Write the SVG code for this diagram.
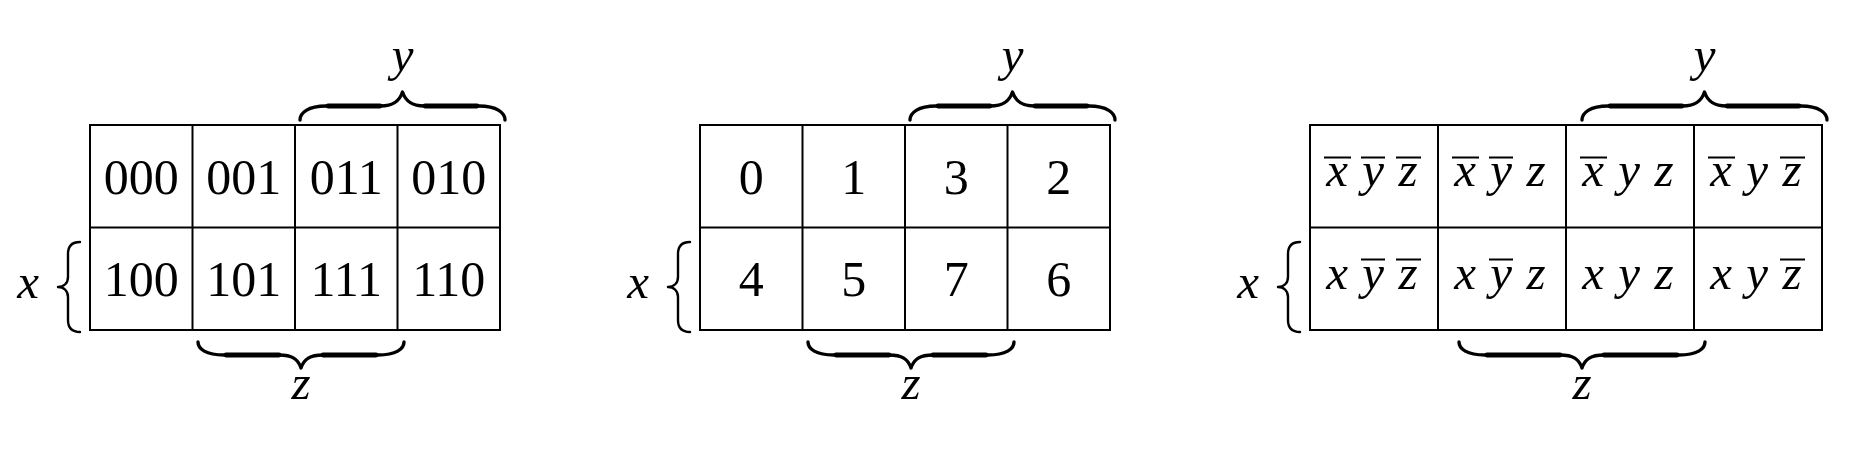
<svg xmlns="http://www.w3.org/2000/svg" xmlns:xlink="http://www.w3.org/1999/xlink" width="1854" height="450" viewBox="0 0 1854 450">
<style>
.grid{fill:none;stroke:#000;stroke-width:2}
.num{font-family:"Liberation Serif","Times New Roman",serif;font-size:50px;fill:#000;text-anchor:middle}
.var{font-family:"Liberation Serif","Times New Roman",serif;font-style:italic;font-size:49px;fill:#000;text-anchor:middle}
.term{font-family:"Liberation Serif","Times New Roman",serif;font-style:italic;font-size:49px;fill:#000;text-anchor:middle}
.ov{stroke:#000;stroke-width:2;fill:none}
.brace{fill:none;stroke:#000;stroke-width:3.4;stroke-linecap:round;stroke-linejoin:round}
.bthick{fill:none;stroke:#000;stroke-width:4.8;stroke-linecap:round}
.lb{fill:none;stroke:#000;stroke-width:2.4;stroke-linecap:round;stroke-linejoin:round}
</style>
<defs>
<path id="lbrace" d="M80,242 C72,242 68,246 68,254 L68,277 C68,283 64,287 58,287 C64,287 68,291 68,297 L68,320 C68,328 72,332 80,332"/>
</defs>
<rect width="1854" height="450" fill="#fff"/>

<!-- Panel 1: binary codes -->
<g id="panel1">
  <g id="p1-grid" class="grid">
    <rect x="90" y="125" width="410" height="205"/>
    <line x1="90" y1="227.5" x2="500" y2="227.5"/>
    <line x1="192.5" y1="125" x2="192.5" y2="330"/>
    <line x1="295" y1="125" x2="295" y2="330"/>
    <line x1="397.5" y1="125" x2="397.5" y2="330"/>
  </g>
  <g id="p1-cells" class="num">
    <text x="141.25" y="193.5">000</text>
    <text x="243.75" y="193.5">001</text>
    <text x="346.25" y="193.5">011</text>
    <text x="448.75" y="193.5">010</text>
    <text x="141.25" y="296">100</text>
    <text x="243.75" y="296">101</text>
    <text x="346.25" y="296">111</text>
    <text x="448.75" y="296">110</text>
  </g>
  <g id="p1-braces">
    <path class="brace" d="M300,120 C300,113 308,106 326,106 L380.5,106 C393.5,106 399.5,101 402.5,92 C405.5,101 411.5,106 424.5,106 L479,106 C497,106 505,113 505,120"/>
    <path class="bthick" d="M328,106 H380 M425,106 H477"/>
    <path class="brace" d="M198,342 C198,349 206,355 224,355 L279,355 C292,355 298,359 301,368 C304,359 310,355 323,355 L378,355 C396,355 404,349 404,342"/>
    <path class="bthick" d="M226,355 H279 M323,355 H376"/>
    <use xlink:href="#lbrace" href="#lbrace" class="lb"/>
  </g>
  <g id="p1-labels" class="var">
    <text x="28" y="298">x</text>
    <text x="402.5" y="71">y</text>
    <text x="301" y="399">z</text>
  </g>
</g>

<!-- Panel 2: decimal indices -->
<g id="panel2">
  <g id="p2-grid" class="grid">
    <rect x="700" y="125" width="410" height="205"/>
    <line x1="700" y1="227.5" x2="1110" y2="227.5"/>
    <line x1="802.5" y1="125" x2="802.5" y2="330"/>
    <line x1="905" y1="125" x2="905" y2="330"/>
    <line x1="1007.5" y1="125" x2="1007.5" y2="330"/>
  </g>
  <g id="p2-cells" class="num">
    <text x="751.25" y="193.5">0</text>
    <text x="853.75" y="193.5">1</text>
    <text x="956.25" y="193.5">3</text>
    <text x="1058.75" y="193.5">2</text>
    <text x="751.25" y="296">4</text>
    <text x="853.75" y="296">5</text>
    <text x="956.25" y="296">7</text>
    <text x="1058.75" y="296">6</text>
  </g>
  <g id="p2-braces">
    <path class="brace" d="M910,120 C910,113 918,106 936,106 L990.5,106 C1003.5,106 1009.5,101 1012.5,92 C1015.5,101 1021.5,106 1034.5,106 L1089,106 C1107,106 1115,113 1115,120"/>
    <path class="bthick" d="M938,106 H990 M1035,106 H1087"/>
    <path class="brace" d="M808,342 C808,349 816,355 834,355 L889,355 C902,355 908,359 911,368 C914,359 920,355 933,355 L988,355 C1006,355 1014,349 1014,342"/>
    <path class="bthick" d="M836,355 H889 M933,355 H986"/>
    <use xlink:href="#lbrace" href="#lbrace" class="lb" transform="translate(610,0)"/>
  </g>
  <g id="p2-labels" class="var">
    <text x="638" y="298">x</text>
    <text x="1012.5" y="71">y</text>
    <text x="911" y="399">z</text>
  </g>
</g>

<!-- Panel 3: minterms -->
<g id="panel3">
  <g id="p3-grid" class="grid">
    <rect x="1310" y="125" width="512" height="205"/>
    <line x1="1310" y1="227.5" x2="1822" y2="227.5"/>
    <line x1="1438" y1="125" x2="1438" y2="330"/>
    <line x1="1566" y1="125" x2="1566" y2="330"/>
    <line x1="1694" y1="125" x2="1694" y2="330"/>
  </g>
  <g id="p3-row1" class="term">
    <text x="1337" y="186">x</text><text x="1373" y="186">y</text><text x="1408" y="186">z</text>
    <text x="1465" y="186">x</text><text x="1501" y="186">y</text><text x="1536" y="186">z</text>
    <text x="1593" y="186">x</text><text x="1629" y="186">y</text><text x="1664" y="186">z</text>
    <text x="1721" y="186">x</text><text x="1757" y="186">y</text><text x="1792" y="186">z</text>
  </g>
  <g id="p3-row2" class="term">
    <text x="1337" y="289">x</text><text x="1373" y="289">y</text><text x="1408" y="289">z</text>
    <text x="1465" y="289">x</text><text x="1501" y="289">y</text><text x="1536" y="289">z</text>
    <text x="1593" y="289">x</text><text x="1629" y="289">y</text><text x="1664" y="289">z</text>
    <text x="1721" y="289">x</text><text x="1757" y="289">y</text><text x="1792" y="289">z</text>
  </g>
  <g id="p3-overlines" class="ov">
    <path d="M1324,157.5 H1351 M1361,157.5 H1385 M1396,157.5 H1421"/>
    <path d="M1452,157.5 H1479 M1489,157.5 H1513"/>
    <path d="M1580,157.5 H1607"/>
    <path d="M1708,157.5 H1735 M1780,157.5 H1805"/>
    <path d="M1361,259.5 H1385 M1396,259.5 H1421"/>
    <path d="M1489,259.5 H1513"/>
    <path d="M1780,259.5 H1805"/>
  </g>
  <g id="p3-braces">
    <path class="brace" d="M1582,120 C1582,113 1590,106 1608,106 L1682.5,106 C1695.5,106 1701.5,101 1704.5,92 C1707.5,101 1713.5,106 1726.5,106 L1801,106 C1819,106 1827,113 1827,120"/>
    <path class="bthick" d="M1610,106 H1682 M1727,106 H1799"/>
    <path class="brace" d="M1459,342 C1459,349 1467,355 1485,355 L1560,355 C1573,355 1579,359 1582,368 C1585,359 1591,355 1604,355 L1679,355 C1697,355 1705,349 1705,342"/>
    <path class="bthick" d="M1487,355 H1560 M1604,355 H1677"/>
    <use xlink:href="#lbrace" href="#lbrace" class="lb" transform="translate(1220,0)"/>
  </g>
  <g id="p3-labels" class="var">
    <text x="1248" y="298">x</text>
    <text x="1704.5" y="71">y</text>
    <text x="1582" y="399">z</text>
  </g>
</g>
</svg>
